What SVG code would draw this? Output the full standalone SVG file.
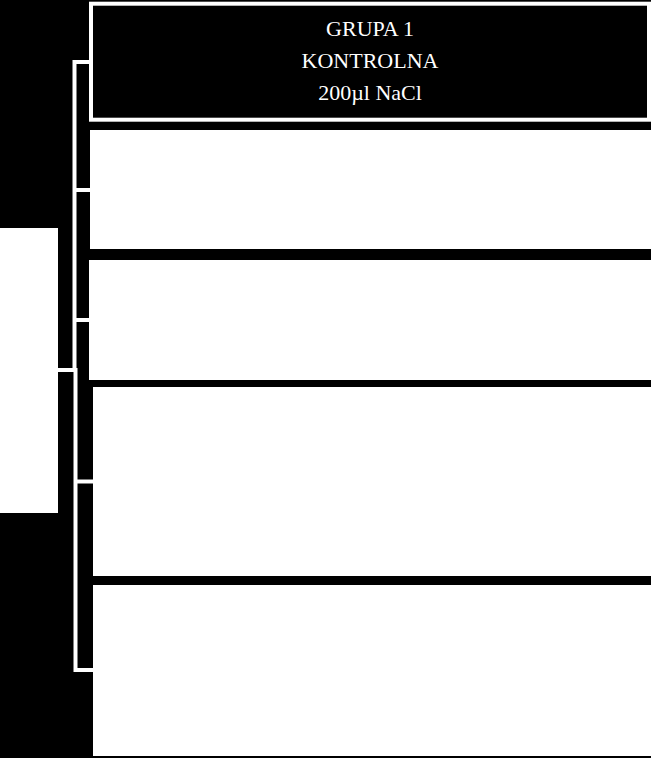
<svg xmlns="http://www.w3.org/2000/svg" width="651" height="758" viewBox="0 0 651 758">
<style>
.bg{fill:#000}
.wbox{fill:#fff}
.hdr{fill:#000;stroke:#fff;stroke-width:4}
.con{fill:none;stroke:#fff;stroke-width:4}
.t{font-family:"Liberation Serif","Times New Roman",serif;font-size:22px;fill:#fff;text-anchor:middle}
</style>
<rect class="bg" x="0" y="0" width="651" height="758"/>
<g id="connectors">
<polyline class="con" points="89,62 74.5,62 74.5,370"/>
<line class="con" x1="74.5" y1="190" x2="90" y2="190"/>
<line class="con" x1="74.5" y1="320" x2="89" y2="320"/>
<line class="con" x1="58" y1="370" x2="76" y2="370"/>
<polyline class="con" points="75.5,368 75.5,670 93,670"/>
<line class="con" x1="75.5" y1="481.5" x2="93" y2="481.5"/>
</g>
<g id="root">
<rect class="wbox" x="0" y="228" width="58" height="285"/>
</g>
<g id="group1">
<rect class="hdr" x="91" y="3.7" width="558" height="116"/>
<text class="t" x="370" y="36">GRUPA 1</text>
<text class="t" x="370" y="68">KONTROLNA</text>
<text class="t" x="370" y="100">200µl NaCl</text>
</g>
<g id="group2">
<rect class="wbox" x="90" y="130" width="561" height="119"/>
</g>
<g id="group3">
<rect class="wbox" x="89" y="260" width="562" height="120"/>
</g>
<g id="group4">
<rect class="wbox" x="93" y="387" width="558" height="189"/>
</g>
<g id="group5">
<rect class="wbox" x="93" y="585" width="558" height="171"/>
</g>
</svg>
